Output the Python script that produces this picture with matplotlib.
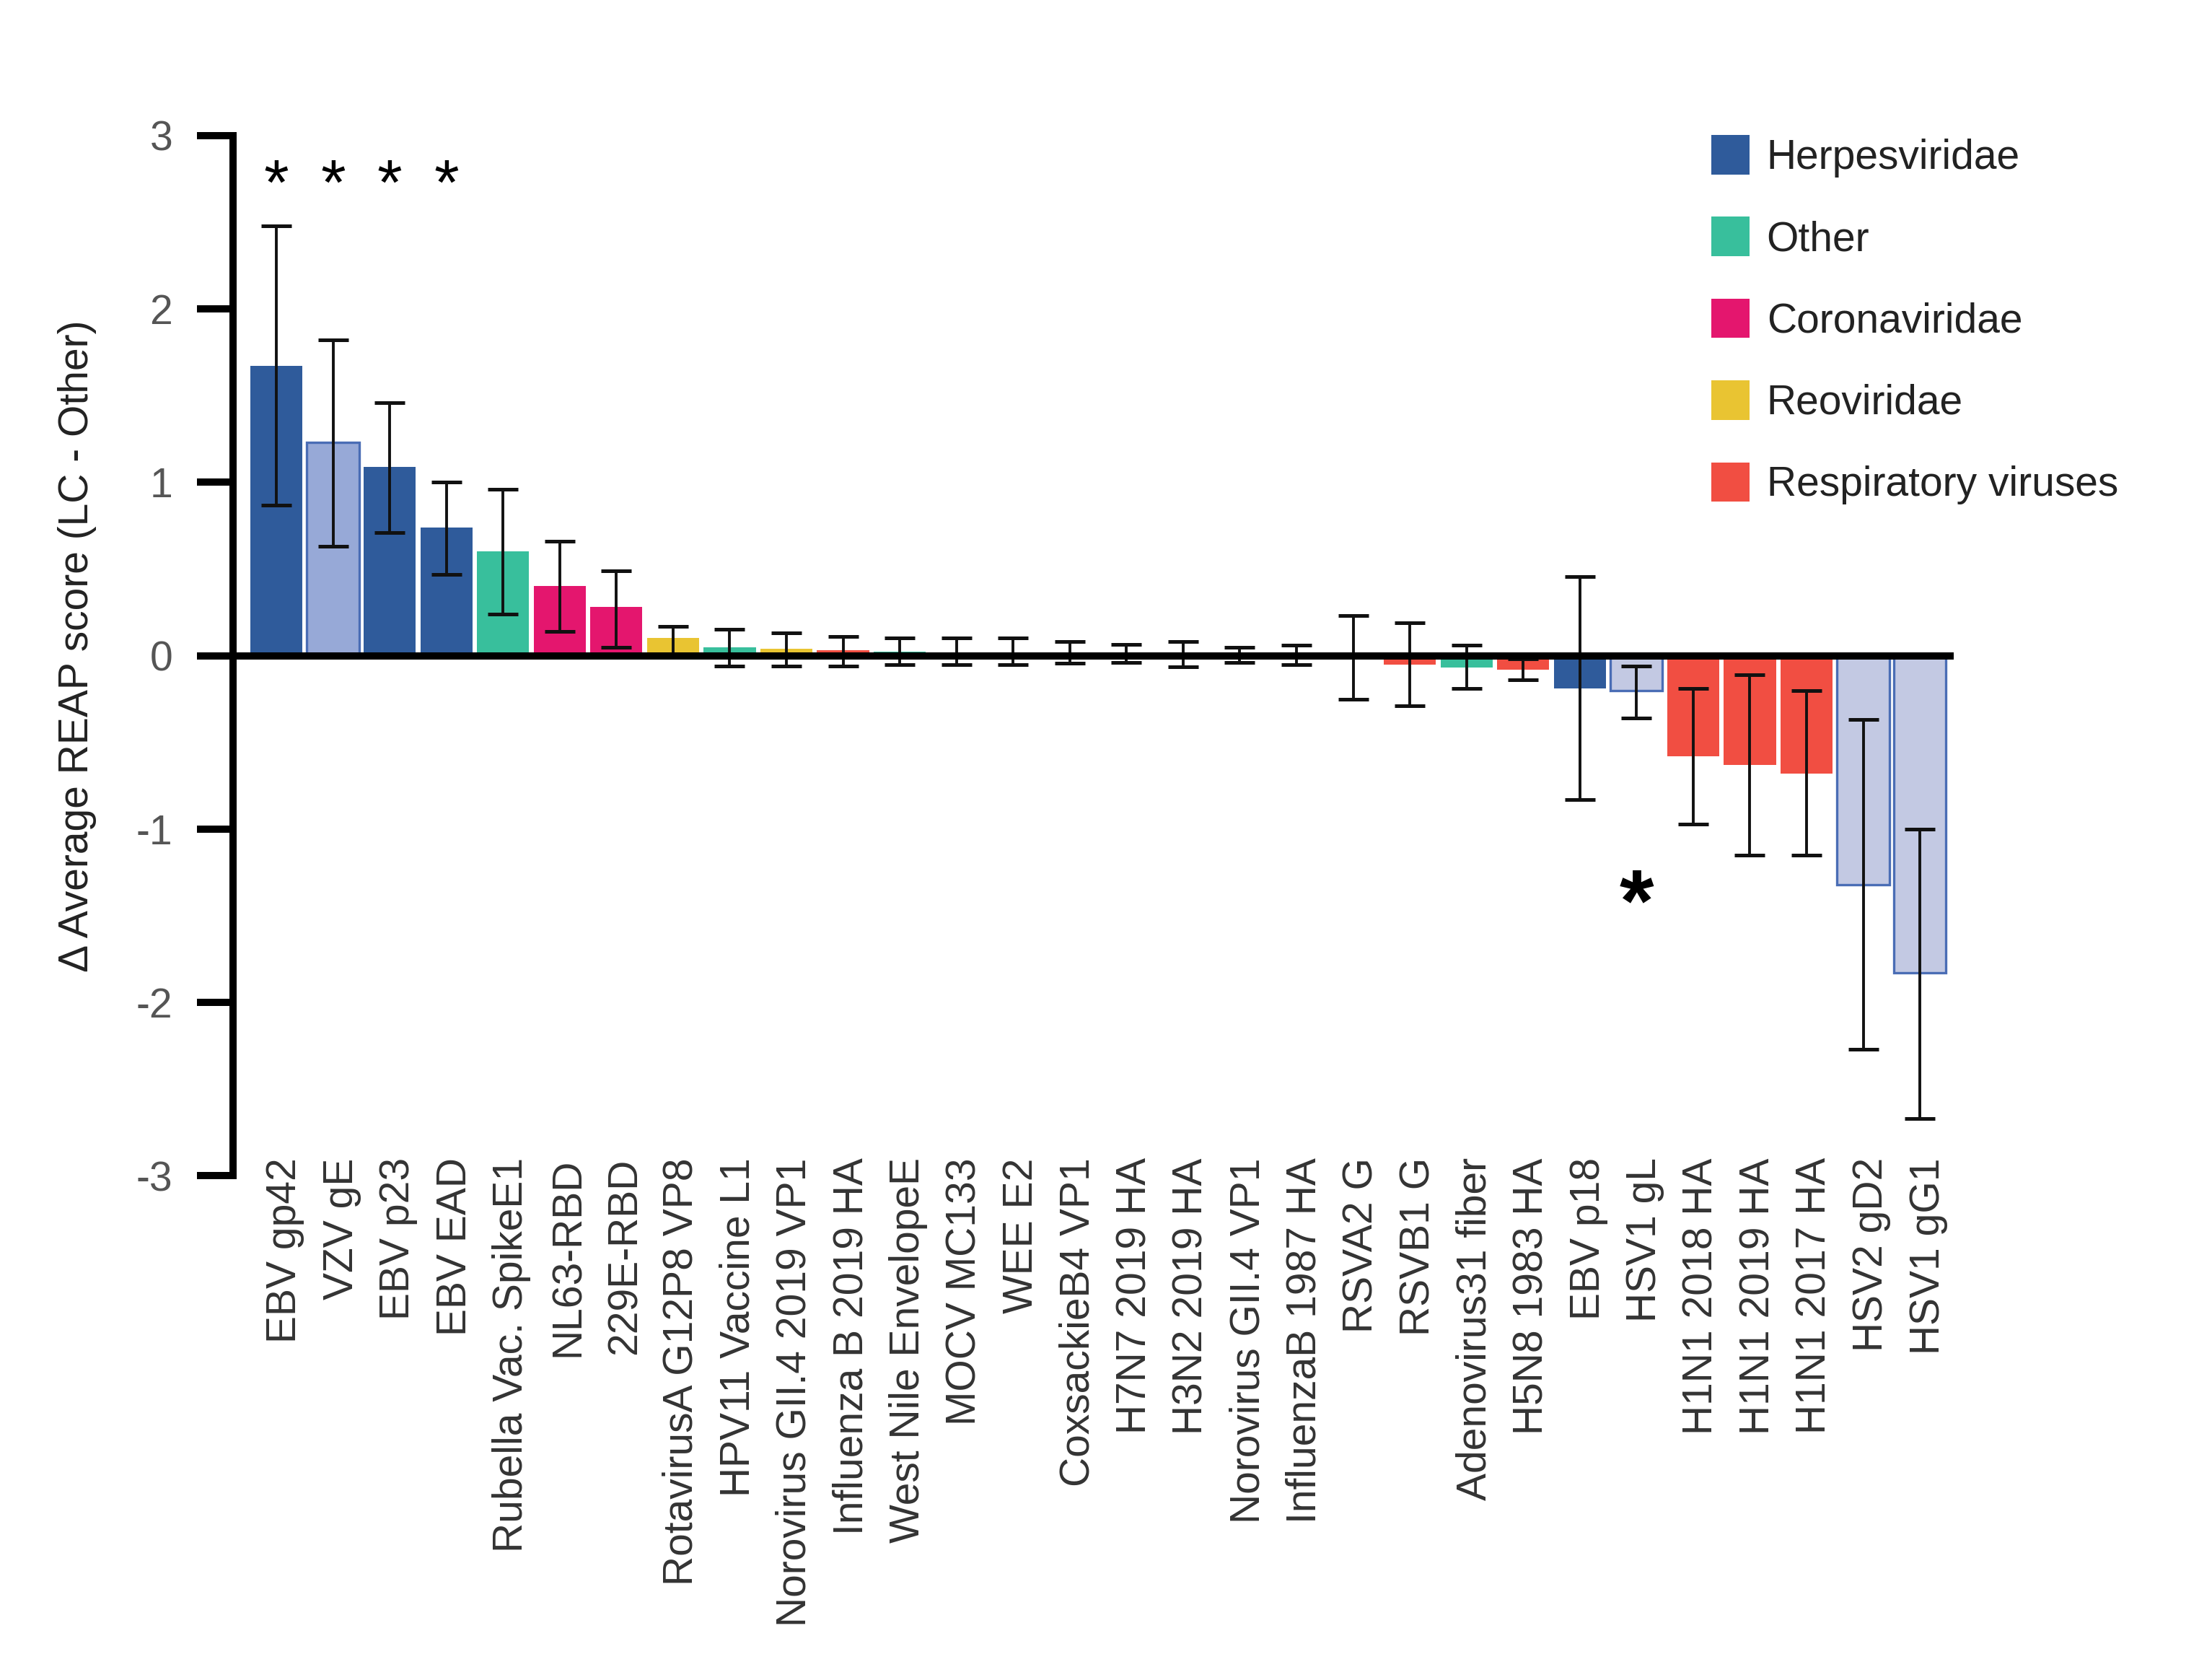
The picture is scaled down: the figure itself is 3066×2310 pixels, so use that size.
import matplotlib
matplotlib.use("Agg")
import matplotlib.pyplot as plt
import matplotlib.transforms as mtransforms
from matplotlib.patches import Patch

plt.rcParams['font.family'] = ['Liberation Sans', 'DejaVu Sans']

labels = ["EBV gp42", "VZV gE", "EBV p23", "EBV EAD", "Rubella Vac. SpikeE1",
          "NL63-RBD", "229E-RBD", "RotavirusA G12P8 VP8", "HPV11 Vaccine L1",
          "Norovirus GII.4 2019 VP1", "Influenza B 2019 HA", "West Nile EnvelopeE",
          "MOCV MC133", "WEE E2", "CoxsackieB4 VP1", "H7N7 2019 HA", "H3N2 2019 HA",
          "Norovirus GII.4 VP1", "InfluenzaB 1987 HA", "RSVA2 G", "RSVB1 G",
          "Adenovirus31 fiber", "H5N8 1983 HA", "EBV p18", "HSV1 gL", "H1N1 2018 HA",
          "H1N1 2019 HA", "H1N1 2017 HA", "HSV2 gD2", "HSV1 gG1"]
values = [1.67, 1.23, 1.09, 0.74, 0.60, 0.40, 0.28, 0.10, 0.05, 0.04, 0.03, 0.025,
          0.02, 0.02, 0.01, 0.005, -0.01, 0.0, -0.01, -0.01, -0.05, -0.07, -0.08,
          -0.19, -0.20, -0.58, -0.63, -0.68, -1.32, -1.83]
err_upper = [2.48, 1.82, 1.46, 1.00, 0.96, 0.66, 0.49, 0.17, 0.15, 0.13, 0.11, 0.10,
             0.10, 0.10, 0.08, 0.066, 0.08, 0.047, 0.06, 0.23, 0.19, 0.06, -0.02,
             0.455, -0.06, -0.19, -0.11, -0.20, -0.37, -1.00]
err_lower = [0.87, 0.63, 0.71, 0.47, 0.24, 0.14, 0.05, 0.00, -0.06, -0.06, -0.06, -0.05,
             -0.05, -0.05, -0.045, -0.04, -0.065, -0.04, -0.05, -0.25, -0.29, -0.19,
             -0.14, -0.83, -0.36, -0.97, -1.15, -1.15, -2.27, -2.67]
groups = ['H', 'L', 'H', 'H', 'O', 'C', 'C', 'R', 'O', 'R', 'S', 'O', 'O', 'O', 'O',
          'S', 'S', 'R', 'S', 'S', 'S', 'O', 'S', 'H', 'P', 'S', 'S', 'S', 'P', 'P']
star_top_x = [0, 1, 2, 3]
star_top_y = [2.70, 2.70, 2.70, 2.70]
star_low_x = [24]
star_low_y = [-1.45]

legend_labels = ["Herpesviridae", "Other", "Coronaviridae", "Reoviridae", "Respiratory viruses"]
legend_keys = ['H', 'O', 'C', 'R', 'S']

colors = {'H': '#2F5B9B', 'L': '#97A9D7', 'P': '#C3C9E3', 'O': '#38BF9C',
          'C': '#E4166E', 'R': '#E9C432', 'S': '#F14E42'}
edge_col = '#4A6DB5'

fig = plt.figure(figsize=(15.33, 11.55), dpi=200)
ax = fig.add_axes([0.1052, 0.2947, 0.7781, 0.624])

x = list(range(len(labels)))
fc = [colors[g] for g in groups]
ec = [edge_col if g in ('L', 'P') else 'none' for g in groups]
lw = [1.2 if g in ('L', 'P') else 0 for g in groups]
ax.bar(x, values, width=0.92, color=fc, edgecolor=ec, linewidth=lw, zorder=2)

yerr = [[v - lo for v, lo in zip(values, err_lower)],
        [up - v for v, up in zip(values, err_upper)]]
ax.errorbar(x, values, yerr=yerr, fmt='none', ecolor='#111111', elinewidth=1.4,
            capsize=7.5, capthick=1.8, zorder=3)

ax.axhline(0, color='black', linewidth=3.6, zorder=4)

for sx, sy in zip(star_top_x, star_top_y):
    ax.text(sx, sy, '*', ha='center', va='center', fontsize=32, color='black')
for sx, sy in zip(star_low_x, star_low_y):
    ax.text(sx, sy, '*', ha='center', va='center', fontsize=44, fontweight='bold', color='black')

ax.set_xlim(-0.77, 29.6)
ax.set_ylim(-3, 3)
for s in ['top', 'right', 'bottom']:
    ax.spines[s].set_visible(False)
ax.spines['left'].set_linewidth(3.6)
ax.spines['left'].set_bounds(-3, 3)
ax.set_yticks([-3, -2, -1, 0, 1, 2, 3])
ax.set_yticklabels(['-3', '-2', '-1', '0', '1', '2', '3'])
ax.tick_params(axis='y', direction='out', length=18, width=3.6, pad=12,
               labelsize=20.5, labelcolor='#555555')
ax.set_xticks(x)
ax.set_xticklabels(labels, rotation=90, va='top', ha='center')
ax.tick_params(axis='x', length=0, pad=-9, labelsize=20.5, labelcolor='#333333')
offset = mtransforms.ScaledTranslation(4.3 / 72, 0, fig.dpi_scale_trans)
for lab in ax.get_xticklabels():
    lab.set_transform(lab.get_transform() + offset)

fig.text(0.035, 0.6126, 'Δ Average REAP score (LC - Other)', rotation=90,
         ha='center', va='center', fontsize=20.5, color='#222222')

handles = [Patch(facecolor=colors[k], edgecolor='none') for k in legend_keys]
fig.legend(handles, legend_labels, loc='upper left', bbox_to_anchor=(0.7736, 0.919),
           frameon=False, fontsize=20.5, handlelength=0.93, handleheight=1.1,
           handletextpad=0.42, labelspacing=0.96, borderpad=0, borderaxespad=0,
           labelcolor='#222222')

fig.savefig('out.png', dpi=200)
